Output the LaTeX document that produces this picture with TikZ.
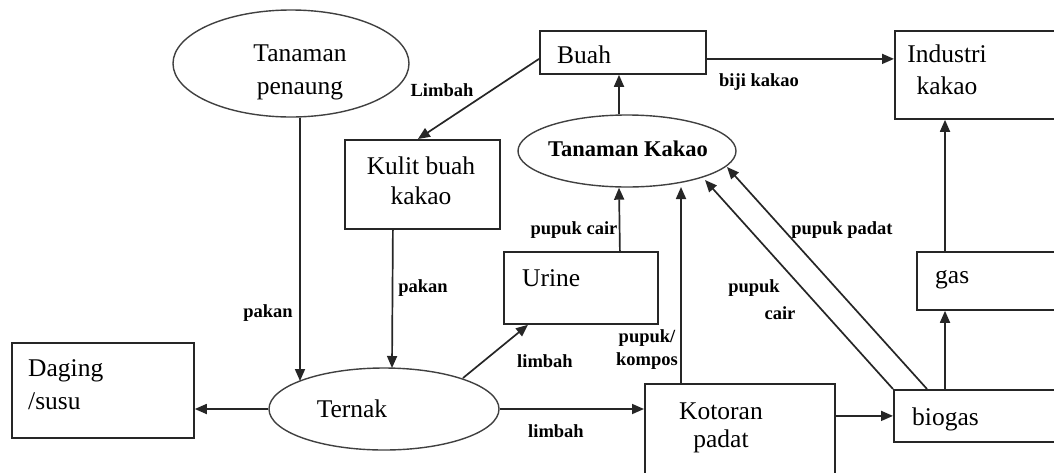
\documentclass[tikz,border=0pt]{standalone}
\usepackage{fontspec}
\setmainfont{Liberation Serif}
\usetikzlibrary{arrows.meta,shapes.geometric,calc}
\tikzset{
  box/.style={draw=black!85, line width=1.8pt, rectangle, inner sep=0pt, anchor=north west},
  oval/.style={draw=black!75, line width=1.4pt, ellipse, inner sep=0pt},
  arr/.style={draw=black!85, line width=1.7pt, -{Triangle[length=12pt,width=10pt]}},
  txt/.style={inner sep=0pt, font=\fontsize{25.5}{31}\selectfont},
  lbl/.style={inner sep=0pt, font=\fontsize{18.5}{23}\selectfont\bfseries},
}
\begin{document}
\begin{tikzpicture}[x=1pt,y=-1pt]
\useasboundingbox (0,0) rectangle (1054,472);
\clip (0,0) rectangle (1054,472);
% shapes
\node[oval, minimum width=236pt, minimum height=107pt] (pen) at (291,63.5) {};
\node[oval, minimum width=218pt, minimum height=72pt] (tk) at (627,151) {};
\node[oval, minimum width=230pt, minimum height=82pt] (ternak) at (384,409) {};
\node[box, minimum width=166pt, minimum height=43pt] (buah) at (539,30) {};
\node[box, minimum width=176pt, minimum height=88pt] (industri) at (894,30) {};
\node[box, minimum width=155pt, minimum height=89pt] (kulit) at (344,139) {};
\node[box, minimum width=154pt, minimum height=72pt] (urine) at (503,251) {};
\node[box, minimum width=154pt, minimum height=58pt] (gas) at (916,251) {};
\node[box, minimum width=182pt, minimum height=95pt] (daging) at (11,342) {};
\node[box, minimum width=190pt, minimum height=110pt] (kotoran) at (644,383) {};
\node[box, minimum width=177pt, minimum height=52pt] (biogas) at (893,389) {};
% texts
\node[txt, align=center, font=\fontsize{25.5}{33}\selectfont] (tpen) at (300,72) {Tanaman\\penaung};
\node[txt, font=\fontsize{22.5}{27}\selectfont\bfseries] (ttk) at (628,149) {Tanaman Kakao};
\node[txt, align=center, font=\fontsize{25.5}{30}\selectfont] (tkulit) at (421,181) {Kulit buah\\kakao};
\node[txt, anchor=west] (tbuah) at (557,55) {Buah};
\node[txt, align=center, font=\fontsize{25.5}{32}\selectfont] (tind) at (947,70) {Industri\\kakao};
\node[txt, anchor=west] (turine) at (522,278) {Urine};
\node[txt, anchor=west] (tgas) at (935,280) {gas};
\node[txt, align=left, anchor=west, font=\fontsize{25.5}{33}\selectfont] (tdag) at (28,385) {Daging\\/susu};
\node[txt] (tternak) at (352,409) {Ternak};
\node[txt, align=center, font=\fontsize{25.5}{28}\selectfont] (tkot) at (721,428) {Kotoran\\padat};
\node[txt, anchor=west] (tbio) at (912,419) {biogas};
% labels
\node[lbl] (l1) at (442,90) {Limbah};
\node[lbl] (l2) at (759,82) {biji kakao};
\node[lbl] (l3) at (574,230) {pupuk cair};
\node[lbl] (l4) at (842,230) {pupuk padat};
\node[lbl] (l5) at (268,313) {pakan};
\node[lbl] (l6) at (423,288) {pakan};
\node[lbl] (l7) at (754,288) {pupuk};
\node[lbl] (l8) at (780,313) {cair};
\node[lbl, align=center] (l9) at (647,350) {pupuk/\\kompos};
\node[lbl] (l10) at (545,361) {limbah};
\node[lbl] (l11) at (556,431) {limbah};
% connectors
\draw[arr] ([yshift=-6.5pt]buah.west) -- ([xshift=-4.5pt]kulit.north);
\draw[arr] ([yshift=-6.5pt]buah.east) -- ([yshift=-6.5pt]buah.east -| industri.west);
\draw[arr] ([xshift=-8pt]tk.north) -- ([xshift=-8pt]tk.north |- buah.south);
\draw[arr] ([xshift=9pt]pen.south) -- ($(ternak.center)+(-84,-28)$);
\draw[arr] ([xshift=-29.5pt]kulit.south) -- ($(ternak.center)+(8,-41)$);
\draw[arr] (ternak.west) -- (ternak.west -| daging.east);
\draw[arr] ($(ternak.center)+(79,-31)$) -- ([xshift=25pt]urine.south west);
\draw[arr] (ternak.east) -- (ternak.east -| kotoran.west);
\draw[arr] ([xshift=39pt]urine.north) -- ([xshift=-8pt]tk.south);
\draw[arr] ([xshift=37pt]kotoran.north west) -- ($(tk.center)+(54,36)$);
\draw[arr] (kotoran.east |- biogas.west) -- (biogas.west);
\draw[arr] (biogas.north west) -- ($(tk.center)+(78,29)$);
\draw[arr] ([xshift=34pt]biogas.north west) -- ($(tk.center)+(100,16)$);
\draw[arr] ([xshift=52pt]biogas.north west) -- ([xshift=52pt]biogas.north west |- gas.south);
\draw[arr] ([xshift=29pt]gas.north west) -- ([xshift=29pt]gas.north west |- industri.south);
\end{tikzpicture}
\end{document}
